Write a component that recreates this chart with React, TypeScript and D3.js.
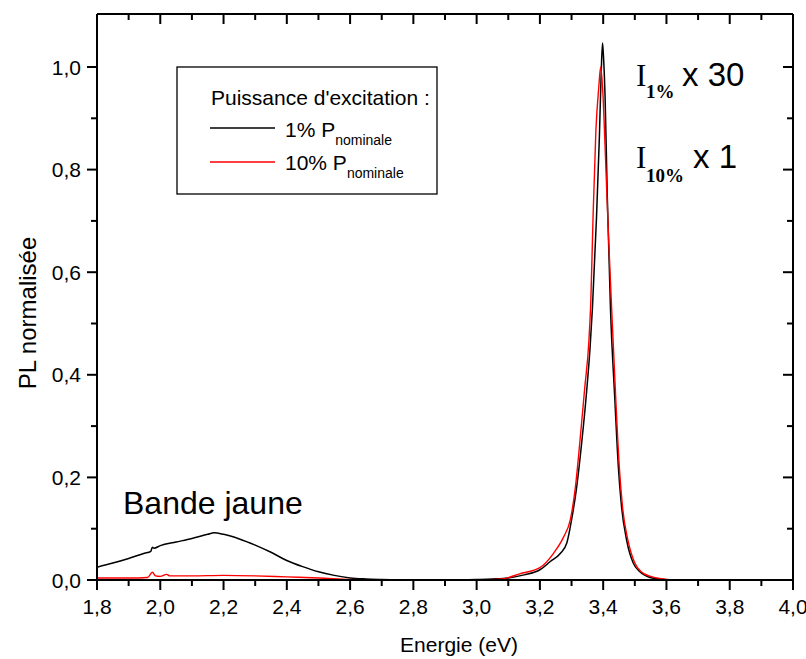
import React from 'react';
import * as d3 from 'd3';

// 1% P nominale (x30), black
const energy1 = [1.80, 1.85, 1.90, 1.95, 1.97, 1.975, 1.98, 2.00, 2.05, 2.10, 2.15, 2.17, 2.20, 2.25, 2.30, 2.35, 2.40, 2.45, 2.50, 2.55, 2.60, 2.65, 2.70, 2.80, 2.90, 3.00, 3.05, 3.10, 3.15, 3.20, 3.233, 3.265, 3.285, 3.30, 3.316, 3.332, 3.348, 3.358, 3.366, 3.379, 3.388, 3.394, 3.398, 3.401, 3.406, 3.413, 3.423, 3.437, 3.448, 3.458, 3.474, 3.495, 3.516, 3.548, 3.58, 3.62, 3.70, 4.00];
const pl1 = [0.025, 0.033, 0.042, 0.052, 0.056, 0.064, 0.062, 0.067, 0.074, 0.081, 0.089, 0.092, 0.089, 0.080, 0.068, 0.054, 0.038, 0.026, 0.016, 0.009, 0.004, 0.002, 0.001, 0.000, 0.000, 0.001, 0.002, 0.004, 0.010, 0.020, 0.036, 0.052, 0.072, 0.117, 0.180, 0.267, 0.370, 0.448, 0.530, 0.708, 0.864, 0.994, 1.047, 1.020, 0.942, 0.747, 0.530, 0.350, 0.220, 0.143, 0.078, 0.033, 0.016, 0.005, 0.002, 0.000, 0.000, 0.000];

// 10% P nominale (x1), red
const energy10 = [1.80, 1.90, 1.96, 1.975, 1.985, 2.00, 2.02, 2.03, 2.10, 2.20, 2.30, 2.40, 2.50, 2.60, 2.70, 3.00, 3.08, 3.136, 3.20, 3.243, 3.275, 3.296, 3.312, 3.326, 3.341, 3.355, 3.361, 3.368, 3.377, 3.386, 3.392, 3.399, 3.406, 3.416, 3.427, 3.44, 3.451, 3.461, 3.478, 3.50, 3.52, 3.55, 3.59, 3.62, 4.00];
const pl10 = [0.004, 0.004, 0.005, 0.015, 0.008, 0.007, 0.011, 0.008, 0.008, 0.009, 0.008, 0.006, 0.004, 0.001, 0.000, 0.000, 0.002, 0.012, 0.024, 0.052, 0.084, 0.117, 0.180, 0.267, 0.370, 0.468, 0.546, 0.708, 0.877, 0.960, 1.000, 0.950, 0.845, 0.682, 0.526, 0.350, 0.220, 0.143, 0.078, 0.033, 0.016, 0.007, 0.002, 0.000, 0.000];

const xMajor = [1.8, 2.0, 2.2, 2.4, 2.6, 2.8, 3.0, 3.2, 3.4, 3.6, 3.8, 4.0];
const xMajorLabels = ['1,8', '2,0', '2,2', '2,4', '2,6', '2,8', '3,0', '3,2', '3,4', '3,6', '3,8', '4,0'];
const xMinor = [1.9, 2.1, 2.3, 2.5, 2.7, 2.9, 3.1, 3.3, 3.5, 3.7, 3.9];
const yMajor = [0.0, 0.2, 0.4, 0.6, 0.8, 1.0];
const yMajorLabels = ['0,0', '0,2', '0,4', '0,6', '0,8', '1,0'];
const yMinor = [0.1, 0.3, 0.5, 0.7, 0.9];

const SANS = "Arial, 'Liberation Sans', sans-serif";
const SERIF = "'Times New Roman', 'Liberation Serif', serif";

export default function App() {
  const W = 806, H = 659;
  const L = 97, R = 793, B = 580, T = 14;
  const x = d3.scaleLinear().domain([1.8, 4.0]).range([L, R]);
  const y = d3.scaleLinear().domain([0, 1.0]).range([B, 67]);

  const path1 = d3.line<number>()
    .x((_, i) => x(energy1[i]))
    .y((d) => y(d))
    .curve(d3.curveMonotoneX)(pl1) || '';
  const path10 = d3.line<number>()
    .x((_, i) => x(energy10[i]))
    .y((d) => y(d))
    .curve(d3.curveMonotoneX)(pl10) || '';

  const majorLen = 10, minorLen = 6;

  return (
    <svg width={W} height={H} style={{ position: 'absolute', left: 0, top: 0, background: '#fff' }}>
      <rect x={0} y={0} width={W} height={H} fill="#fff" />
      <defs>
        <clipPath id="plotclip">
          <rect x={L} y={T} width={R - L} height={B - T} />
        </clipPath>
      </defs>

      {/* data */}
      <g clipPath="url(#plotclip)">
        <path d={path1} fill="none" stroke="#000" strokeWidth={1.5} strokeLinejoin="round" />
        <path d={path10} fill="none" stroke="#ff0000" strokeWidth={1.4} strokeLinejoin="round" />
      </g>

      {/* frame */}
      <g stroke="#000" strokeWidth={2} fill="none">
        <line x1={L} y1={T} x2={R} y2={T} />
        <line x1={L} y1={B} x2={R} y2={B} />
        <line x1={L} y1={T} x2={L} y2={B} />
        <line x1={R} y1={T} x2={R} y2={B} />
        {xMajor.map((v) => (
          <g key={'xm' + v}>
            <line x1={x(v)} x2={x(v)} y1={B} y2={B + majorLen} />
            <line x1={x(v)} x2={x(v)} y1={T} y2={T + majorLen} />
          </g>
        ))}
        {xMinor.map((v) => (
          <g key={'xn' + v}>
            <line x1={x(v)} x2={x(v)} y1={B} y2={B + minorLen} />
            <line x1={x(v)} x2={x(v)} y1={T} y2={T + minorLen} />
          </g>
        ))}
        {yMajor.map((v) => (
          <g key={'ym' + v}>
            <line x1={L - majorLen} x2={L} y1={y(v)} y2={y(v)} />
            <line x1={R - majorLen} x2={R} y1={y(v)} y2={y(v)} />
          </g>
        ))}
        {yMinor.map((v) => (
          <g key={'yn' + v}>
            <line x1={L - minorLen} x2={L} y1={y(v)} y2={y(v)} />
            <line x1={R - minorLen} x2={R} y1={y(v)} y2={y(v)} />
          </g>
        ))}
      </g>

      {/* tick labels */}
      <g fontFamily={SANS} fontSize={21} fill="#000">
        {xMajor.map((v, i) => (
          <text key={'xl' + v} x={x(v)} y={614} textAnchor="middle">{xMajorLabels[i]}</text>
        ))}
        {yMajor.map((v, i) => (
          <text key={'yl' + v} x={81} y={y(v) + 7.5} textAnchor="end">{yMajorLabels[i]}</text>
        ))}
      </g>

      {/* axis titles */}
      <text x={459} y={652} textAnchor="middle" fontFamily={SANS} fontSize={21}>Energie (eV)</text>
      <text transform={`translate(36, ${313}) rotate(-90)`} textAnchor="middle" fontFamily={SANS} fontSize={24}>PL normalisée</text>

      {/* legend */}
      <rect x={177} y={67} width={260} height={127} fill="#fff" stroke="#000" strokeWidth={1.3} />
      <text x={211} y={105} fontFamily={SANS} fontSize={21}>Puissance d'excitation :</text>
      <line x1={210} x2={275} y1={128} y2={128} stroke="#000" strokeWidth={1.3} />
      <line x1={210} x2={275} y1={162} y2={162} stroke="#ff0000" strokeWidth={1.3} />
      <text x={285} y={137} fontFamily={SANS} fontSize={21}>
        1% P<tspan fontSize={14} dy={8}>nominale</tspan>
      </text>
      <text x={285} y={170} fontFamily={SANS} fontSize={21}>
        10% P<tspan fontSize={14} dy={8}>nominale</tspan>
      </text>

      {/* annotations */}
      <text x={636} y={86} fontFamily={SERIF} fontSize={31}>I</text>
      <text x={646} y={98} fontFamily={SERIF} fontSize={19} fontWeight="bold">1%</text>
      <text x={682} y={86} fontFamily={SANS} fontSize={33}>x 30</text>

      <text x={636} y={168} fontFamily={SERIF} fontSize={31}>I</text>
      <text x={646} y={182} fontFamily={SERIF} fontSize={19} fontWeight="bold">10%</text>
      <text x={693} y={168} fontFamily={SANS} fontSize={33}>x 1</text>

      <text x={123} y={514} fontFamily={SANS} fontSize={32}>Bande jaune</text>
    </svg>
  );
}
